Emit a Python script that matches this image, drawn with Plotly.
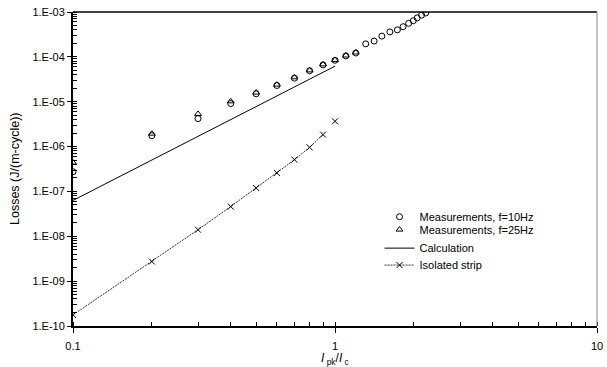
import plotly.graph_objects as go

# Measurements f=10Hz (circles)
x_10hz = [0.1, 0.2, 0.3, 0.4, 0.5, 0.6, 0.7, 0.8, 0.9, 1.0, 1.1, 1.2,
          1.31, 1.41, 1.51, 1.62, 1.73, 1.82, 1.91, 1.99, 2.06, 2.14, 2.22]
y_10hz = [2.75e-7, 1.75e-6, 4.2e-6, 9.1e-6, 1.5e-5, 2.3e-5, 3.35e-5, 4.9e-5, 6.6e-5, 8.4e-5, 1.05e-4, 1.22e-4,
          1.95e-4, 2.25e-4, 2.9e-4, 3.6e-4, 4.0e-4, 4.7e-4, 5.6e-4, 6.4e-4, 7.4e-4, 8.5e-4, 9.5e-4]

# Measurements f=25Hz (triangles)
x_25hz = [0.1, 0.2, 0.3, 0.4, 0.5, 0.6, 0.7, 0.8, 0.9, 1.0, 1.1, 1.2]
y_25hz = [4.4e-7, 1.94e-6, 5.35e-6, 1.02e-5, 1.6e-5, 2.4e-5, 3.5e-5, 5.0e-5, 6.8e-5, 8.5e-5, 1.07e-4, 1.25e-4]

# Calculation (solid line)
x_calc = [0.1, 0.2, 0.3, 0.4, 0.5, 0.6, 0.7, 0.8, 0.9, 1.0]
y_calc = [6.3e-8, 5.0e-7, 1.7e-6, 4.0e-6, 7.8e-6, 1.35e-5, 2.15e-5, 3.2e-5, 4.6e-5, 6.2e-5]

# Isolated strip (dashed line with x markers)
x_strip = [0.1, 0.2, 0.3, 0.4, 0.5, 0.6, 0.7, 0.8, 0.9]
y_strip = [1.77e-10, 2.74e-9, 1.4e-8, 4.6e-8, 1.19e-7, 2.58e-7, 5.1e-7, 9.6e-7, 1.85e-6]
x_strip_extra = [1.0]
y_strip_extra = [3.66e-6]

y_tickvals = [1e-10, 1e-9, 1e-8, 1e-7, 1e-6, 1e-5, 1e-4, 1e-3]
y_ticktext = ["1.E-10", "1.E-09", "1.E-08", "1.E-07", "1.E-06", "1.E-05", "1.E-04", "1.E-03"]
x_tickvals = [0.1, 1, 10]
x_ticktext = ["0.1", "1", "10"]

FONT = "Liberation Sans, Arial, sans-serif"

fig = go.Figure()
fig.add_trace(go.Scatter(x=x_10hz, y=y_10hz, mode="markers", name="Measurements, f=10Hz", legend="legend",
                         marker=dict(symbol="circle-open", size=6, color="black", line=dict(width=1))))
fig.add_trace(go.Scatter(x=x_25hz, y=y_25hz, mode="markers", name="Measurements, f=25Hz", legend="legend2",
                         marker=dict(symbol="triangle-up-open", size=6, color="black", line=dict(width=1))))
fig.add_trace(go.Scatter(x=x_calc, y=y_calc, mode="lines", name="Calculation", legend="legend3",
                         line=dict(color="black", width=1)))
fig.add_trace(go.Scatter(x=x_strip, y=y_strip, mode="lines+markers", name="Isolated strip", legend="legend4",
                         line=dict(color="#333333", width=1, dash="2px,1px"),
                         marker=dict(symbol="x-thin-open", size=6, color="black", line=dict(width=1))))
fig.add_trace(go.Scatter(x=x_strip_extra, y=y_strip_extra, mode="markers", showlegend=False,
                         marker=dict(symbol="x-thin-open", size=6, color="black", line=dict(width=1))))

leg_common = dict(xanchor="left", yanchor="middle", bgcolor="rgba(0,0,0,0)",
                  font=dict(size=11, family=FONT), itemwidth=30, borderwidth=0)

fig.update_layout(
    width=607, height=367,
    margin=dict(l=73, r=10, t=12, b=41, autoexpand=False),
    paper_bgcolor="white", plot_bgcolor="white",
    font=dict(family=FONT, size=11, color="black"),
    showlegend=True,
    legend=dict(x=0.585, y=0.348, **leg_common),
    legend2=dict(x=0.585, y=0.307, **leg_common),
    legend3=dict(x=0.585, y=0.248, **leg_common),
    legend4=dict(x=0.585, y=0.194, **leg_common),
    shapes=[
        dict(type="line", xref="paper", yref="paper", x0=0, x1=1, y0=1, y1=1,
             line=dict(color="black", width=1.5)),
        dict(type="line", xref="paper", yref="paper", x0=1, x1=1, y0=0, y1=1,
             line=dict(color="#888888", width=1)),
    ],
    annotations=[
        dict(text="<i>I</i><sub> pk</sub>/<i>I</i><sub> c</sub>", xref="paper", yref="paper",
             x=0.5, y=0, yshift=-43, xanchor="center", yanchor="bottom", showarrow=False,
             font=dict(size=12, family=FONT)),
        dict(text="Losses (J/(m-cycle))", xref="paper", yref="paper", textangle=-90,
             x=0, y=0.5, xshift=-58, xanchor="center", yanchor="middle", showarrow=False,
             font=dict(size=12.5, family=FONT)),
    ],
)
fig.update_xaxes(
    type="log", range=[-1, 1], automargin=False,
    tickvals=x_tickvals, ticktext=x_ticktext,
    showgrid=False, zeroline=False,
    showline=True, linecolor="black", linewidth=2,
    ticks="outside", ticklen=5, tickcolor="black", tickwidth=1,
    ticklabelstandoff=4,
    minor=dict(ticks="inside", ticklen=4, tickcolor="black", tickwidth=1, dtick="D1", showgrid=False),
)
fig.update_yaxes(
    type="log", range=[-10, -3], automargin=False,
    tickvals=y_tickvals, ticktext=y_ticktext,
    showgrid=False, zeroline=False,
    showline=True, linecolor="black", linewidth=2,
    ticks="outside", ticklen=4, tickcolor="black", tickwidth=1,
    minor=dict(ticks="inside", ticklen=4, tickcolor="black", tickwidth=1, dtick="D1", showgrid=False),
)

fig.write_html("out.html")
